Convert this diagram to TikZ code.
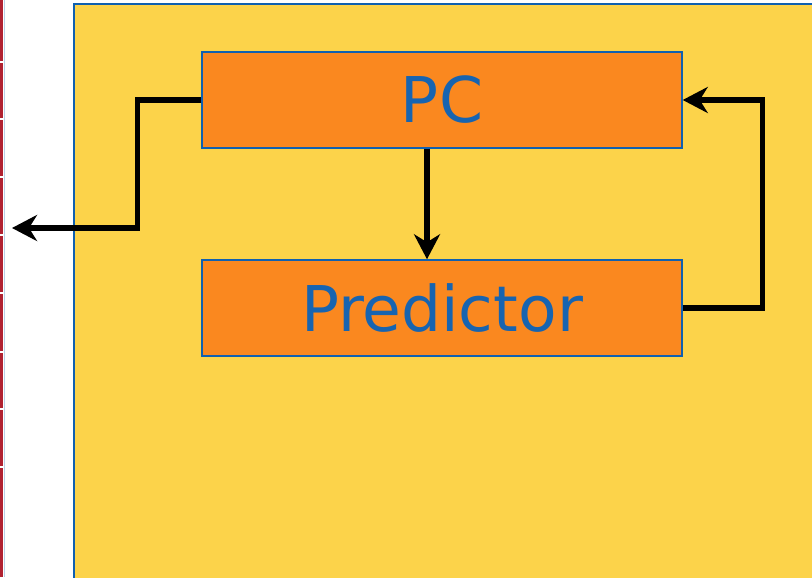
\documentclass[tikz,border=0pt]{standalone}
\usepackage{fontspec}
\setmainfont{DejaVu Sans}
\usetikzlibrary{arrows.meta}
\definecolor{slideyellow}{HTML}{FCD34A}
\definecolor{boxorange}{HTML}{FA881F}
\definecolor{edgeblue}{HTML}{1060B0}
\definecolor{textblue}{HTML}{1764B0}
\definecolor{stripred}{HTML}{B02232}
\begin{document}
\begin{tikzpicture}[x=0.75pt,y=-0.75pt,block/.style={draw=edgeblue,line width=1.1pt,fill=boxorange,minimum width=360pt,minimum height=72pt,inner sep=0pt,text=textblue,font=\fontsize{47.3}{50}\selectfont},wire/.style={line width=4pt,line join=miter},tip/.style={-{Stealth[length=18.75pt,width=19.5pt,inset=6pt]}}]
\def\dx{-11.25pt};

\useasboundingbox (0,0) rectangle (812,577);
\clip (0,0) rectangle (812,577);

% edge of the neighbouring panel
\fill[stripred] (0,0) rectangle (3,577);
\draw[edgeblue!30,line width=0.8pt] (4.5,0) -- (4.5,577);
\foreach \y in {62,119,177,235,293,352,409,467}
  \fill[white] (0,\y-1) rectangle (3,\y+1);

% background panel
\draw[edgeblue,line width=1.5pt,fill=slideyellow] (74,4) rectangle (830,600);

\node[block] (pc) at (442,100) {PC};
\node[block] (pred) at (442,308) {Predictor};

\coordinate (out) at (12,228);

\draw[wire,tip] (pc.west) -- ++(-64,0) |- (out);
\draw[wire,tip] ([xshift=\dx]pc.south) -- ([xshift=\dx]pred.north);
\draw[wire,tip] (pred.east) -- ++(80,0) |- (pc.east);
\end{tikzpicture}
\end{document}
